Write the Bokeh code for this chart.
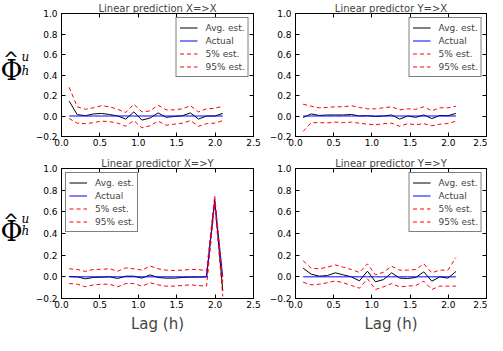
from bokeh.plotting import figure
from bokeh.layouts import column, row
from bokeh.models import FixedTicker, CustomJSTickFormatter, LinearAxis, Range1d
from bokeh.core.properties import value
from bokeh.embed import file_html
from bokeh.resources import INLINE

lags = [0.1, 0.205, 0.311, 0.416, 0.521, 0.626, 0.732, 0.837, 0.942, 1.047,
        1.153, 1.258, 1.363, 1.468, 1.574, 1.679, 1.784, 1.889, 1.995, 2.1]

titles = ["Linear prediction X=>X", "Linear predictor Y=>X",
          "Linear predictor X=>Y", "Linear predictor Y=>Y"]
legend_labels = ["Avg. est.", "Actual", "5% est.", "95% est."]
x_ticks = [0.0, 0.5, 1.0, 1.5, 2.0, 2.5]
y_ticks = [-0.2, 0.0, 0.2, 0.4, 0.6, 0.8, 1.0]
x_label = "Lag (h)"
y_label_parts = ["\u03a6", "^", "u", "h"]

# Top-left: X=>X
xx_avg = [0.145, 0.013, 0.003, 0.02, 0.025, 0.015, 0.0, -0.03, 0.04, -0.04,
          -0.02, 0.03, -0.013, -0.005, 0.003, 0.03, -0.03, 0.0, 0.0, 0.025]
xx_act = [0.0] * 20
xx_p05 = [-0.025, -0.07, -0.075, -0.065, -0.05, -0.055, -0.07, -0.1, -0.045, -0.115,
          -0.095, -0.05, -0.09, -0.08, -0.07, -0.045, -0.1, -0.075, -0.07, -0.045]
xx_p95 = [0.28, 0.09, 0.065, 0.08, 0.1, 0.09, 0.065, 0.035, 0.115, 0.04,
          0.05, 0.105, 0.06, 0.06, 0.07, 0.1, 0.04, 0.07, 0.075, 0.095]

# Top-right: Y=>X
yx_avg = [-0.015, 0.02, 0.005, 0.01, 0.01, 0.01, 0.015, 0.0, 0.003, -0.005,
          0.0, 0.01, -0.03, 0.0, -0.013, 0.01, -0.025, 0.005, 0.003, 0.025]
yx_act = [0.0] * 20
yx_p05 = [-0.15, -0.065, -0.065, -0.067, -0.06, -0.065, -0.06, -0.07, -0.08, -0.085,
          -0.075, -0.07, -0.1, -0.075, -0.085, -0.075, -0.095, -0.08, -0.073, -0.05]
yx_p95 = [0.115, 0.095, 0.08, 0.083, 0.09, 0.09, 0.1, 0.083, 0.07, 0.07,
          0.08, 0.09, 0.06, 0.07, 0.065, 0.09, 0.05, 0.08, 0.08, 0.095]

# Bottom-left: X=>Y
xy_avg = [0.003, 0.0, -0.018, -0.006, -0.003, 0.0, -0.015, 0.006, 0.006, -0.012,
          0.018, -0.006, -0.012, -0.012, -0.006, -0.003, -0.003, 0.0, 0.71, -0.13]
xy_act = [0.0, 0.0, 0.0, 0.0, 0.0, 0.0, 0.0, 0.0, 0.0, 0.0,
          0.0, 0.0, 0.0, 0.0, 0.0, 0.0, 0.0, 0.0, 0.7, 0.0]
xy_p05 = [-0.062, -0.068, -0.092, -0.074, -0.068, -0.068, -0.092, -0.062, -0.062, -0.086,
          -0.055, -0.074, -0.086, -0.086, -0.08, -0.074, -0.08, -0.086, 0.68, -0.18]
xy_p95 = [0.074, 0.068, 0.05, 0.068, 0.07, 0.074, 0.052, 0.083, 0.074, 0.062,
          0.1, 0.074, 0.062, 0.058, 0.062, 0.068, 0.068, 0.055, 0.75, -0.05]

# Bottom-right: Y=>Y
yy_avg = [0.08, 0.025, 0.006, 0.012, 0.037, 0.018, 0.0, -0.037, 0.052, -0.046,
          -0.025, 0.037, -0.012, -0.015, -0.006, 0.046, -0.04, 0.0, -0.012, 0.049]
yy_act = [0.0] * 20
yy_p05 = [-0.05, -0.074, -0.068, -0.055, -0.037, -0.055, -0.08, -0.105, -0.018, -0.117,
          -0.092, -0.062, -0.092, -0.086, -0.08, -0.04, -0.117, -0.086, -0.086, -0.086]
yy_p95 = [0.148, 0.08, 0.074, 0.089, 0.11, 0.089, 0.068, 0.04, 0.12, 0.018,
          0.043, 0.098, 0.062, 0.062, 0.068, 0.12, 0.037, 0.062, 0.062, 0.178]

FONT = "DejaVu Sans"
fmt_code = "return tick.toFixed(1).replace('-', '\\u2212');"


def make_panel(title, avg, act, p05, p95, legend_loc, w, h, bl, bt, fw, fh, xlabel):
    p = figure(width=w, height=h, x_range=(0, 2.5), y_range=(-0.2, 1.0),
               output_backend="svg", toolbar_location=None,
               min_border_left=bl, min_border_right=w - bl - fw,
               min_border_top=bt, min_border_bottom=h - bt - fh)
    p.title.text = title
    p.title.text_font = FONT
    p.title.text_font_size = "10px"
    p.title.text_font_style = "normal"
    p.title.align = "center"
    p.title.standoff = 0
    p.title.offset = 0
    p.grid.visible = False
    p.outline_line_color = "black"
    p.outline_line_alpha = 1.0
    p.background_fill_color = "white"
    p.border_fill_color = "white"

    p.line(lags, avg, line_color="black", line_width=1, legend_label=legend_labels[0])
    p.line(lags, act, line_color="blue", line_width=1, legend_label=legend_labels[1])
    p.line(lags, p05, line_color="red", line_width=1, line_dash="4 3", legend_label=legend_labels[2])
    p.line(lags, p95, line_color="red", line_width=1, line_dash="4 3", legend_label=legend_labels[3])

    xax = p.below[0]
    yax = p.left[0]
    for ax in (xax, yax):
        ax.formatter = CustomJSTickFormatter(code=fmt_code)
        ax.major_tick_in = 4
        ax.major_tick_out = 0
        ax.minor_tick_line_color = None
        ax.major_label_text_font = FONT
        ax.major_label_text_font_size = "9px"
        ax.major_label_text_color = "black"
        ax.axis_line_color = "black"
    xax.ticker = FixedTicker(ticks=x_ticks)
    yax.ticker = FixedTicker(ticks=y_ticks)
    xax.major_label_standoff = 2
    yax.major_label_standoff = 4

    if xlabel:
        xax.axis_label = xlabel
        xax.axis_label_text_font = FONT
        xax.axis_label_text_font_size = "15px"
        xax.axis_label_text_font_style = "normal"
        xax.axis_label_standoff = 4

    for side, ticks in (("above", x_ticks), ("right", y_ticks)):
        ax = LinearAxis(ticker=FixedTicker(ticks=ticks), major_tick_in=4, major_tick_out=0,
                        minor_tick_line_color=None, major_label_text_color=None,
                        major_label_text_font_size="0px", major_label_standoff=0)
        p.add_layout(ax, side)

    lg = p.legend[0]
    lg.location = legend_loc
    lg.label_text_font = FONT
    lg.label_text_font_size = "9px"
    lg.padding = 3
    lg.spacing = 0
    lg.margin = 4
    lg.label_height = 13
    lg.glyph_height = 13
    lg.glyph_width = 18
    lg.label_standoff = 8
    lg.border_line_color = "black"
    lg.border_line_width = 1
    lg.background_fill_alpha = 1.0
    return p


def make_phi(height, ybase):
    # narrow label figure; its ranges are in pixels
    q = figure(width=32, height=height, x_range=Range1d(0, 32), y_range=Range1d(0, height),
               output_backend="svg", toolbar_location=None,
               min_border_left=0, min_border_right=0, min_border_top=0, min_border_bottom=0)
    q.axis.visible = False
    q.grid.visible = False
    q.outline_line_color = None
    q.text(x=[0], y=[ybase], text=[y_label_parts[0]], text_font=value("DejaVu Serif"),
           text_font_size="27px", text_baseline="alphabetic", text_align="left")
    q.text(x=[10.5], y=[ybase + 15], text=[y_label_parts[1]], text_font=value("DejaVu Sans"),
           text_font_size="19px", text_baseline="alphabetic", text_align="center")
    q.text(x=[21], y=[ybase + 17], text=[y_label_parts[2]], text_font=value("DejaVu Serif"),
           text_font_size="12px", text_font_style="italic", text_baseline="alphabetic")
    q.text(x=[21], y=[ybase], text=[y_label_parts[3]], text_font=value("DejaVu Serif"),
           text_font_size="12px", text_font_style="italic", text_baseline="alphabetic")
    return q


# widths: 32 + 234 + 221 = 487 ; heights: 155 + 180 = 335
tl = make_panel(titles[0], xx_avg, xx_act, xx_p05, xx_p95, "top_right", 234, 155, 26, 12, 195, 124, None)
tr = make_panel(titles[1], yx_avg, yx_act, yx_p05, yx_p95, "top_right", 221, 155, 26, 12, 194, 124, None)
bl = make_panel(titles[2], xy_avg, xy_act, xy_p05, xy_p95, "top_left", 234, 180, 26, 13, 195, 130, x_label)
br = make_panel(titles[3], yy_avg, yy_act, yy_p05, yy_p95, "top_right", 221, 180, 26, 13, 194, 130, x_label)

phi_top = make_phi(155, 83)
phi_bot = make_phi(180, 93)

layout = column(row(phi_top, tl, tr), row(phi_bot, bl, br))
open("out.html", "w").write(file_html(layout, INLINE))
